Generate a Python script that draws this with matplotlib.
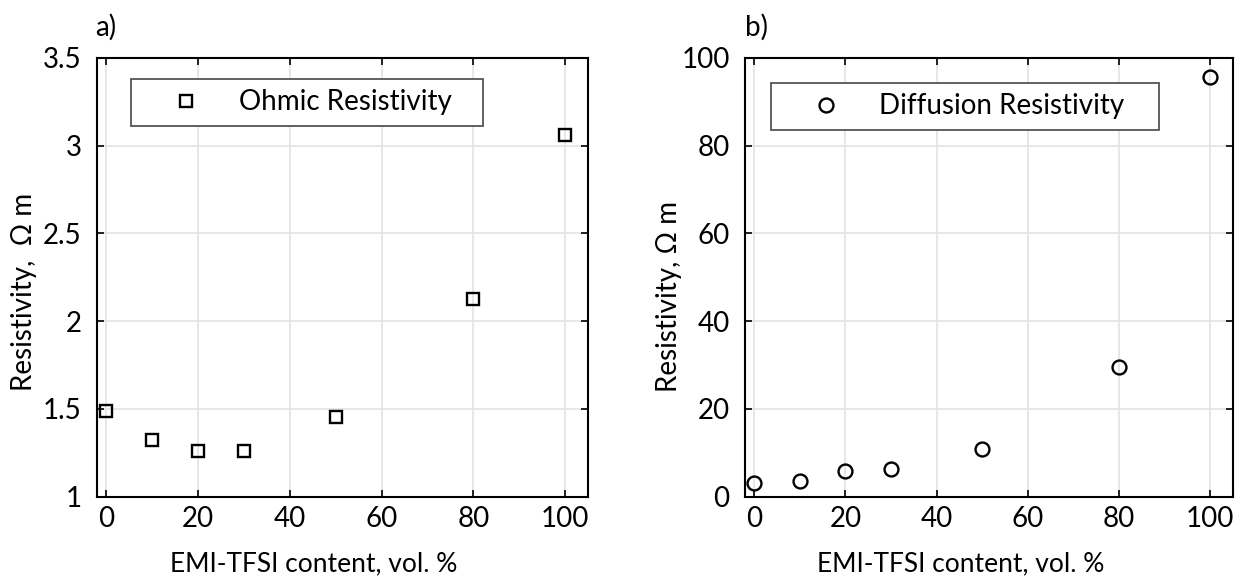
import numpy as np
import matplotlib
matplotlib.use("Agg")
import matplotlib.pyplot as plt

# EMI-TFSI content (vol. %) and the fitted resistivities
content = [0, 10, 20, 30, 50, 80, 100]
ohmic = [1.49, 1.32, 1.26, 1.26, 1.455, 2.125, 3.06]
diffusion = [3.0, 3.5, 5.8, 6.2, 10.8, 29.6, 95.7]

x_ticks = [0, 20, 40, 60, 80, 100]
ohmic_ticks = [1, 1.5, 2, 2.5, 3, 3.5]
ohmic_ticklabels = ["1", "1.5", "2", "2.5", "3", "3.5"]
diff_ticks = [0, 20, 40, 60, 80, 100]

FS = 20
plt.rcParams['font.family'] = ['Lato', 'DejaVu Sans']
plt.rcParams['font.size'] = FS

W, H = 1237, 580
fig = plt.figure(figsize=(W / 100, H / 100), dpi=100)


def px_axes(left, right, top, bottom):
    return fig.add_axes([left / W, 1 - bottom / H, (right - left) / W, (bottom - top) / H])


def style(ax):
    ax.set_xlim(-2, 105)
    ax.set_xticks(x_ticks)
    ax.grid(True, color="#e3e3e3", linewidth=1.2)
    ax.set_axisbelow(True)
    ax.tick_params(direction="in", length=5, width=1.2, top=True, right=True,
                   labelsize=FS)
    ax.tick_params(axis="x", pad=7)
    ax.tick_params(axis="y", pad=11)
    for s in ax.spines.values():
        s.set_linewidth(1.5)
        s.set_color("black")


def legend(ax, bbox):
    leg = ax.legend(loc="lower left", bbox_to_anchor=bbox, mode="expand",
                    fancybox=False, framealpha=1, edgecolor="#555555",
                    borderpad=0.38, handlelength=3.2, handletextpad=0.3,
                    numpoints=1, borderaxespad=0, fontsize=FS)
    leg.get_frame().set_linewidth(1.3)


# a) ohmic resistivity
ax1 = px_axes(97, 588, 58, 496.5)
ax1.plot(content, ohmic, ls="none", marker="s", ms=8, mew=1.7,
         mfc="none", mec="black", label="Ohmic Resistivity")
style(ax1)
ax1.set_ylim(1, 3.5)
ax1.set_yticks(ohmic_ticks)
ax1.set_yticklabels(ohmic_ticklabels)
ax1.set_xlabel("EMI-TFSI content, vol. %", fontsize=19)
ax1.xaxis.set_label_coords(0.442, -0.124)
ax1.set_ylabel("Resistivity,  \u03a9 m", fontsize=FS)
ax1.yaxis.set_label_coords(-0.123, 0.466)
legend(ax1, (0.069, 0.845, 0.717, 0.105))
fig.text(95 / W, 1 - 36 / H, "a)", fontsize=FS, ha="left", va="baseline")

# b) diffusion resistivity
ax2 = px_axes(745, 1233, 58, 496.5)
ax2.plot(content, diffusion, ls="none", marker="o", ms=10, mew=1.7,
         mfc="none", mec="black", label="Diffusion Resistivity")
style(ax2)
ax2.set_ylim(0, 100)
ax2.set_yticks(diff_ticks)
ax2.set_xlabel("EMI-TFSI content, vol. %", fontsize=19)
ax2.xaxis.set_label_coords(0.443, -0.124)
ax2.set_ylabel("Resistivity, \u03a9 m", fontsize=FS)
ax2.yaxis.set_label_coords(-0.129, 0.455)
legend(ax2, (0.053, 0.836, 0.795, 0.105))
fig.text(745 / W, 1 - 36 / H, "b)", fontsize=FS, ha="left", va="baseline")

fig.savefig("out.png", dpi=100)
